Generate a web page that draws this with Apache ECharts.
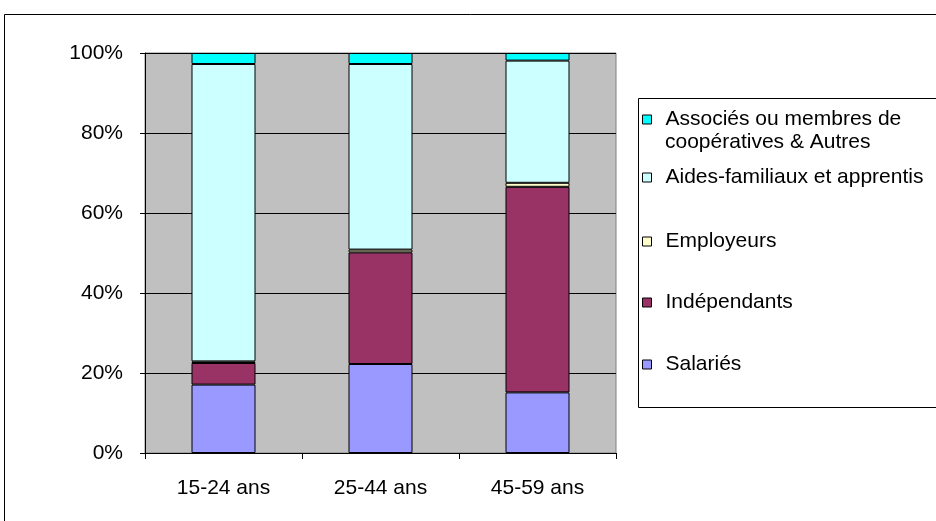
<!DOCTYPE html>
<html>
<head>
<meta charset="utf-8">
<script src="https://cdn.jsdelivr.net/npm/echarts@6/dist/echarts.min.js"></script>
<style>
  html, body { margin: 0; padding: 0; background: #fff; }
  #chart { width: 936px; height: 521px; }
</style>
</head>
<body>
<div id="chart"></div>
<script>
// Age groups and status shares (% of each group)
const categories = ['15-24 ans', '25-44 ans', '45-59 ans'];
const salaries = [17.1, 22.25, 15.15];
const independants = [5.4, 27.9, 51.4];
const employeurs = [0.4, 0.7, 1.0];
const aidesFamiliaux = [74.35, 46.4, 30.55];
const associes = [2.75, 2.75, 1.9];
const yTicks = [0, 20, 40, 60, 80, 100];

const FONT = 'Liberation Sans, Arial, sans-serif';
const FONT_SIZE = 21;

const seriesDefs = [
  { name: 'Salariés', data: salaries, color: '#9999FF' },
  { name: 'Indépendants', data: independants, color: '#993366' },
  { name: 'Employeurs', data: employeurs, color: '#FFFFCC' },
  { name: 'Aides-familiaux et apprentis', data: aidesFamiliaux, color: '#CCFFFF' },
  { name: 'Associés ou membres de coopératives & Autres', data: associes, color: '#00FFFF' }
];

const series = seriesDefs.map(s => ({
  name: s.name,
  type: 'bar',
  stack: 'total',
  barWidth: 64,
  data: s.data,
  itemStyle: { color: s.color, borderColor: '#000', borderWidth: 1 },
  emphasis: { disabled: true }
}));

// One legend block per row; the long name wraps onto a second, icon-less row
const legendRows = [
  { name: seriesDefs[4].name, top: 109, text: 'Associés ou membres de' },
  { name: seriesDefs[4].name, top: 132, text: 'coopératives & Autres', noIcon: true },
  { name: seriesDefs[3].name, top: 167 },
  { name: seriesDefs[2].name, top: 231 },
  { name: seriesDefs[1].name, top: 292 },
  { name: seriesDefs[0].name, top: 354 }
];

const legends = legendRows.map(r => ({
  data: [r.name],
  left: 642,
  top: r.top,
  padding: 0,
  icon: 'rect',
  itemWidth: 9,
  itemHeight: 9,
  selectedMode: false,
  itemStyle: r.noIcon
    ? { color: 'rgba(0,0,0,0)', borderColor: 'rgba(0,0,0,0)', borderWidth: 0 }
    : { borderColor: '#000', borderWidth: 1 },
  formatter: r.text ? () => r.text : undefined,
  textStyle: {
    fontFamily: FONT,
    fontSize: FONT_SIZE,
    color: '#000',
    lineHeight: 20,
    padding: [0, 0, 0, 9]
  }
}));

const chart = echarts.init(document.getElementById('chart'));
chart.setOption({
  animation: false,
  backgroundColor: '#fff',
  graphic: [
    {
      type: 'rect',
      shape: { x: 4.5, y: 14.5, width: 960, height: 540 },
      style: { fill: 'none', stroke: '#000', lineWidth: 1 },
      z: 100
    },
    {
      type: 'rect',
      shape: { x: 638.5, y: 98.5, width: 320, height: 309 },
      style: { fill: 'none', stroke: '#000', lineWidth: 1 },
      z: 100
    }
  ],
  grid: {
    left: 145,
    right: 320,
    top: 53,
    bottom: 68,
    show: true,
    backgroundColor: '#C0C0C0',
    borderColor: '#808080',
    borderWidth: 1
  },
  legend: legends,
  xAxis: {
    type: 'category',
    data: categories,
    axisLine: { lineStyle: { color: '#000', width: 1 } },
    axisTick: { show: true, alignWithLabel: false, length: 6, lineStyle: { color: '#000' } },
    axisLabel: { fontFamily: FONT, fontSize: FONT_SIZE, color: '#000', margin: 25 }
  },
  yAxis: {
    type: 'value',
    min: yTicks[0],
    max: yTicks[yTicks.length - 1],
    interval: yTicks[1] - yTicks[0],
    axisLine: { show: true, lineStyle: { color: '#000', width: 1 } },
    axisTick: { show: true, length: 5, lineStyle: { color: '#000' } },
    splitLine: { show: true, lineStyle: { color: '#000', width: 1 } },
    axisLabel: {
      fontFamily: FONT,
      fontSize: FONT_SIZE,
      color: '#000',
      margin: 22,
      formatter: v => v + '%'
    }
  },
  series: series
});
</script>
</body>
</html>
